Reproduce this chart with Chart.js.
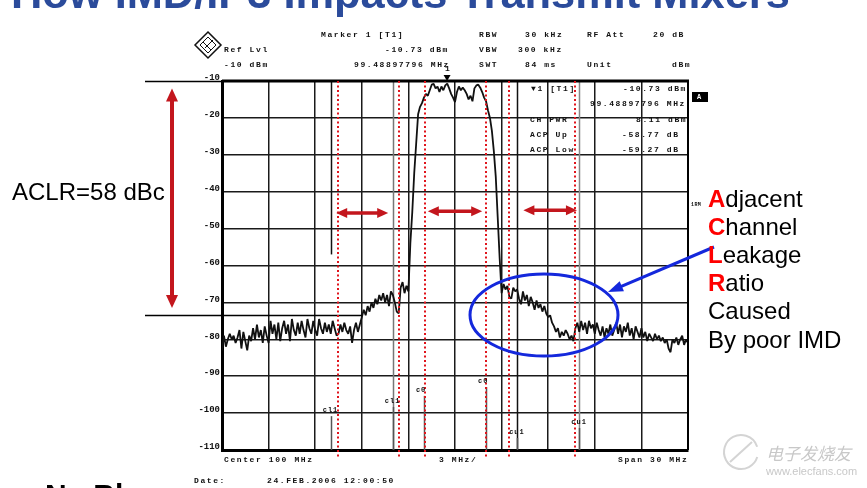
<!DOCTYPE html>
<html>
<head>
<meta charset="utf-8">
<script src="https://cdn.jsdelivr.net/npm/chart.js@4/dist/chart.umd.min.js"></script>
<style>
body{margin:0;background:#fff;}
#wrap{position:relative;width:867px;height:488px;overflow:hidden;background:#fff;}
#wrap canvas{position:absolute;left:0;top:0;}
.t{position:absolute;white-space:nowrap;}
.m{font:bold 8px "Liberation Mono",monospace;letter-spacing:1.6px;line-height:10px;color:#111;}
.s{font-family:"Liberation Sans",Arial,sans-serif;font-size:24px;line-height:1;color:#000;}
.s b{color:#f00;}
</style>
</head>
<body>
<div id="wrap"><canvas id="c" width="867" height="488"></canvas></div>
<script>
// sweep: 85..115 MHz, 0.125 MHz per point
const sweepStart = 85;
const sweepStep = 0.125;

// 85.0 - 96.875 MHz
const traceLow = [
  -83, -79, -82, -80, -78.5, -80, -79, -81,
  -79.5, -77.5, -82.5, -78, -80.5, -83, -79, -80.5,
  -77, -80, -76, -79.5, -77.5, -81, -76.5, -79,
  -81, -75, -78.5, -76, -80, -75.5, -80.5, -77,
  -75, -78.5, -76, -80.5, -74.5, -77.5, -79, -75.5,
  -78.5, -75, -77.5, -79.5, -74.5, -77, -78.5, -75,
  -77.5, -79, -74.5, -77, -78.5, -75.5, -78, -76,
  -78.5, -75, -77, -79, -78.5, -76, -78, -75.5,
  -77.5, -78.5, -76.5, -81, -77.5, -75.5, -78, -76,
  -74, -72, -73.5, -71, -72.5, -70, -71.5, -69,
  -70.5, -68, -69.5, -67.5, -70, -68, -71, -67,
  -68, -70, -72.5, -73, -66, -64.5, -67.5, -65.5
];
// 97.0 - 102.875 MHz (carrier)
const traceMain = [
  -67, -54, -45.5, -35, -27, -19, -17, -16,
  -14.5, -13.5, -14, -12.5, -11, -10.8, -12, -11.5,
  -13, -11.5, -12.5, -11.2, -10.7, -12, -13.5, -14.5,
  -15.7, -13, -11.5, -12.5, -11.8, -12.5, -13.5, -15,
  -14, -15.5, -12, -11.2, -11, -11.8, -13, -14.5,
  -15.5, -18, -20, -23.5, -29, -36, -47, -58
];
// 103.0 - 115.0 MHz
const traceHigh = [
  -67.5,
  -65, -66.5, -65.5, -68.5, -69, -66, -67,
  -66.5, -69, -70.5, -67, -69.5, -68, -71, -68.5,
  -70, -72, -69.5, -71.5, -70.5, -72.5, -71, -73,
  -74, -73.5, -75.5, -76.5, -78, -77, -79.5, -78,
  -79, -77.5, -78.5, -80, -79, -80.5, -77, -75.5,
  -78, -75, -77.5, -75.5, -78.5, -75, -77, -76,
  -78.5, -75.5, -77.5, -79, -76.5, -79.5, -77, -78.5,
  -76, -79, -77.5, -75.5, -78.5, -76, -79.5, -76.5,
  -78, -75.5, -79, -77, -80, -76.5, -78, -79.5,
  -77, -79.5, -78, -80.5, -78.5, -79.5, -80.5, -78.5,
  -80, -79, -80.5, -79.5, -81, -80, -82.5, -83.5,
  -80, -81, -79.5, -81.5, -80, -79, -81.5, -80,
  -81
];

const freqMin = 85, freqMax = 115, freqDiv = 3;
const dbMin = -110, dbMax = -10, dbDiv = 10;

// ACP channel edges (MHz)
const channelEdges = [92, 96, 98, 102, 104, 108];
const channelNames = ['cl1', 'cl1', 'c0', 'c0', 'cu1', 'cu1'];
// red dotted markers added on the slide (MHz)
const redMarkers = [92.47, 96.4, 98.07, 102.0, 103.48, 107.7];
const markerFreq = 99.48897796;
const aclrLevel = -73.3;

const trace = traceLow.concat(traceMain, traceHigh);
const points = trace.map((v, i) => ({x: sweepStart + i * sweepStep, y: v}));

// label heights for the channel tags (dB)
const chanLabelDb = [-99.2, -96.7, -93.7, -91.3, -105.1, -102.4];

function head(ctx, tx, ty, ang, len, w) {
  const bx = tx - len * Math.cos(ang), by = ty - len * Math.sin(ang);
  ctx.beginPath();
  ctx.moveTo(tx, ty);
  ctx.lineTo(bx + w / 2 * Math.sin(ang), by - w / 2 * Math.cos(ang));
  ctx.lineTo(bx - w / 2 * Math.sin(ang), by + w / 2 * Math.cos(ang));
  ctx.closePath();
  ctx.fill();
}
function dblArrow(ctx, x1, y1, x2, y2, lw, len, w, col) {
  const ang = Math.atan2(y2 - y1, x2 - x1);
  ctx.strokeStyle = col; ctx.fillStyle = col; ctx.lineWidth = lw;
  ctx.beginPath();
  ctx.moveTo(x1 + len * 0.7 * Math.cos(ang), y1 + len * 0.7 * Math.sin(ang));
  ctx.lineTo(x2 - len * 0.7 * Math.cos(ang), y2 - len * 0.7 * Math.sin(ang));
  ctx.stroke();
  head(ctx, x2, y2, ang, len, w);
  head(ctx, x1, y1, ang + Math.PI, len, w);
}

const under = {
  id: 'under',
  beforeDatasetsDraw(chart) {
    const {ctx, chartArea: a, scales: {x, y}} = chart;
    ctx.save();
    // channel lines
    ctx.lineWidth = 1.5;
    ctx.strokeStyle = '#111';
    let px = Math.round(x.getPixelForValue(92)) + 0.5;
    ctx.beginPath(); ctx.moveTo(px, a.top); ctx.lineTo(px, y.getPixelForValue(-57)); ctx.stroke();
    [[96, '#777'], [104, '#111'], [108, '#888']].forEach(([f, c]) => {
      px = Math.round(x.getPixelForValue(f)) + 0.5;
      ctx.strokeStyle = c;
      ctx.beginPath(); ctx.moveTo(px, a.top); ctx.lineTo(px, a.bottom); ctx.stroke();
    });
    channelEdges.forEach((f, i) => {
      px = Math.round(x.getPixelForValue(f)) + 0.5;
      ctx.strokeStyle = '#555';
      ctx.beginPath(); ctx.moveTo(px, y.getPixelForValue(chanLabelDb[i]) + 6); ctx.lineTo(px, a.bottom); ctx.stroke();
    });
    ctx.restore();
  }
};

const overlay = {
  id: 'overlay',
  afterDatasetsDraw(chart) {
    const {ctx, chartArea: a, scales: {x, y}} = chart;
    ctx.save();
    // frame top / right
    ctx.strokeStyle = '#000';
    ctx.lineWidth = 3;
    ctx.beginPath(); ctx.moveTo(a.left, a.top); ctx.lineTo(a.right + 1, a.top); ctx.stroke();
    ctx.lineWidth = 2;
    ctx.beginPath(); ctx.moveTo(a.right, a.top); ctx.lineTo(a.right, a.bottom); ctx.stroke();
    // reference lines to the left
    ctx.lineWidth = 1.3;
    ctx.beginPath(); ctx.moveTo(145, a.top + 0.5); ctx.lineTo(a.left, a.top + 0.5); ctx.stroke();
    const ya = Math.round(y.getPixelForValue(aclrLevel)) + 0.5;
    ctx.beginPath(); ctx.moveTo(145, ya); ctx.lineTo(x.getPixelForValue(94), ya); ctx.stroke();

    // red dotted markers
    ctx.strokeStyle = '#e0141c';
    ctx.lineWidth = 2;
    ctx.setLineDash([2, 2.5]);
    redMarkers.forEach(f => {
      const px = Math.round(x.getPixelForValue(f));
      ctx.beginPath(); ctx.moveTo(px, a.top); ctx.lineTo(px, a.bottom + 7); ctx.stroke();
    });
    ctx.setLineDash([]);

    // marker triangle
    const mx = x.getPixelForValue(markerFreq);
    ctx.fillStyle = '#000';
    ctx.beginPath(); ctx.moveTo(mx - 3.5, a.top - 6); ctx.lineTo(mx + 3.5, a.top - 6); ctx.lineTo(mx, a.top); ctx.closePath(); ctx.fill();

    // red arrows
    const red = '#c3161d';
    dblArrow(ctx, 172, y.getPixelForValue(-12), 172, y.getPixelForValue(-71.5), 4, 13, 12, red);
    dblArrow(ctx, x.getPixelForValue(92.35), y.getPixelForValue(-45.8), x.getPixelForValue(95.7), y.getPixelForValue(-45.8), 3.5, 11, 10, red);
    dblArrow(ctx, x.getPixelForValue(98.25), y.getPixelForValue(-45.3), x.getPixelForValue(101.75), y.getPixelForValue(-45.3), 3.5, 11, 10, red);
    dblArrow(ctx, x.getPixelForValue(104.4), y.getPixelForValue(-45), x.getPixelForValue(107.85), y.getPixelForValue(-45), 3.5, 11, 10, red);

    // blue ellipse + arrow
    const blue = '#1428dc';
    ctx.strokeStyle = blue; ctx.fillStyle = blue; ctx.lineWidth = 3;
    ctx.beginPath();
    ctx.ellipse(x.getPixelForValue(105.73), y.getPixelForValue(-73.4), 74, 41, 0, 0, Math.PI * 2);
    ctx.stroke();
    const tx = x.getPixelForValue(109.85), ty = y.getPixelForValue(-67.2);
    const ang = Math.atan2(ty - 247, tx - 714);
    ctx.beginPath(); ctx.moveTo(714, 247); ctx.lineTo(tx - 10 * Math.cos(ang), ty - 10 * Math.sin(ang)); ctx.stroke();
    head(ctx, tx, ty, ang, 15, 11);

    // "A" box
    ctx.fillStyle = '#000';
    ctx.fillRect(692, 92, 16, 10);

    // R&S logo
    ctx.strokeStyle = '#111'; ctx.lineWidth = 1.5;
    ctx.beginPath(); ctx.moveTo(208, 32); ctx.lineTo(221, 45); ctx.lineTo(208, 58); ctx.lineTo(195, 45); ctx.closePath(); ctx.stroke();
    ctx.lineWidth = 1;
    ctx.beginPath(); ctx.moveTo(208, 37); ctx.lineTo(216, 45); ctx.lineTo(208, 53); ctx.lineTo(200, 45); ctx.closePath(); ctx.stroke();
    ctx.beginPath(); ctx.moveTo(203, 42); ctx.lineTo(211, 50); ctx.moveTo(205, 48); ctx.lineTo(213, 40); ctx.stroke();

    // watermark logo
    ctx.strokeStyle = '#d4d4d4'; ctx.lineWidth = 2;
    ctx.beginPath(); ctx.arc(741, 452, 17, 0.3, Math.PI * 1.9); ctx.stroke();
    ctx.beginPath(); ctx.moveTo(730, 462); ctx.lineTo(752, 442); ctx.stroke();
    ctx.restore();
  }
};

const chart = new Chart(document.getElementById('c'), {
  type: 'line',
  data: {
    datasets: [{
      data: points,
      borderColor: '#111',
      borderWidth: 1.8,
      borderJoinStyle: 'bevel',
      pointRadius: 0,
      tension: 0
    }]
  },
  options: {
    responsive: false,
    animation: false,
    events: [],
    layout: {padding: {left: 192, top: 81, right: 179, bottom: 38}},
    plugins: {legend: {display: false}, tooltip: {enabled: false}},
    scales: {
      x: {
        type: 'linear', min: freqMin, max: freqMax,
        ticks: {stepSize: freqDiv, display: false},
        grid: {color: '#1a1a1a', lineWidth: 1.5, drawTicks: false},
        border: {display: true, color: '#000', width: 3},
        afterFit: s => { s.height = 0; }
      },
      y: {
        min: dbMin, max: dbMax,
        ticks: {stepSize: dbDiv, padding: 2, labelOffset: -3, color: '#111',
          font: {family: '"Liberation Mono", monospace', size: 9, weight: 'bold'},
          callback: v => String(v)},
        grid: {color: '#1a1a1a', lineWidth: 1.5, drawTicks: false},
        border: {display: true, color: '#000', width: 3},
        afterFit: s => { s.width = 30; }
      }
    }
  },
  plugins: [under, overlay]
});

// text overlay
const wrap = document.getElementById('wrap');
function txt(s, left, top, cls, css) {
  const d = document.createElement('div');
  d.className = 't ' + cls;
  d.innerHTML = s;
  d.style.left = left + 'px';
  d.style.top = top + 'px';
  if (css) d.style.cssText += css;
  wrap.appendChild(d);
  return d;
}
function mono(s, left, cy, css) { return txt(s, left, cy - 5, 'm', css); }

txt('How IMD/IP3 Impacts Transmit Mixers', 11, 9 - 0.8465 * 43.4, 's',
  'font-size:43.4px;font-weight:bold;color:#2b4b9b;');

mono('Marker 1 [T1]', 321, 35);
mono('RBW', 479, 35); mono('30 kHz', 525, 35); mono('RF Att', 587, 35); mono('20 dB', 653, 35);
mono('Ref Lvl', 224, 50); mono('-10.73 dBm', 385, 50); mono('VBW', 479, 50); mono('300 kHz', 518, 50);
mono('-10 dBm', 224, 65); mono('99.48897796 MHz', 354, 65); mono('SWT', 479, 65);
mono('84 ms', 525, 65); mono('Unit', 587, 65); mono('dBm', 672, 65);

const sx = chart.scales.x, sy = chart.scales.y;
mono('1', sx.getPixelForValue(markerFreq) - 2, 69);

mono('&#9660;1  [T1]', 531, 89); mono('-10.73 dBm', 623, 89);
mono('99.48897796 MHz', 590, 104);
mono('CH PWR', 530, 120); mono('8.11 dBm', 636, 120);
mono('ACP Up', 530, 135); mono('-58.77 dB', 622, 135);
mono('ACP Low', 530, 150); mono('-59.27 dB', 622, 150);

channelNames.forEach((n, i) => {
  mono(n, sx.getPixelForValue(channelEdges[i]) - 8, sy.getPixelForValue(chanLabelDb[i]),
    'font-size:7px;letter-spacing:1px;');
});

mono('A', 697, 97, 'color:#fff;font-size:7px;letter-spacing:0;');
mono('1RM', 691, 205, 'font-size:5px;letter-spacing:0.4px;');

mono('Center 100 MHz', 224, 460);
mono('3 MHz/', 439, 460);
mono('Span 30 MHz', 618, 460);
mono('Date:', 194, 481);
mono('24.FEB.2006  12:00:50', 267, 481);

txt('ACLR=58 dBc', 12, 200 - 0.8465 * 24, 's');
['<b>A</b>djacent', '<b>C</b>hannel', '<b>L</b>eakage', '<b>R</b>atio', 'Caused', 'By poor IMD']
  .forEach((s, i) => txt(s, 708, 207 + i * 28.2 - 0.8465 * 24, 's'));

txt('No Bl', 45, 505 - 0.8465 * 30, 's', 'font-size:30px;font-weight:bold;');

txt('电子发烧友', 766, 444, 's',
  'font-family:"Noto Sans CJK SC",sans-serif;font-size:17px;font-style:italic;color:#c8c8c8;');
txt('www.elecfans.com', 766, 466, 's', 'font-size:11px;color:#c8c8c8;');
</script>
</body>
</html>
